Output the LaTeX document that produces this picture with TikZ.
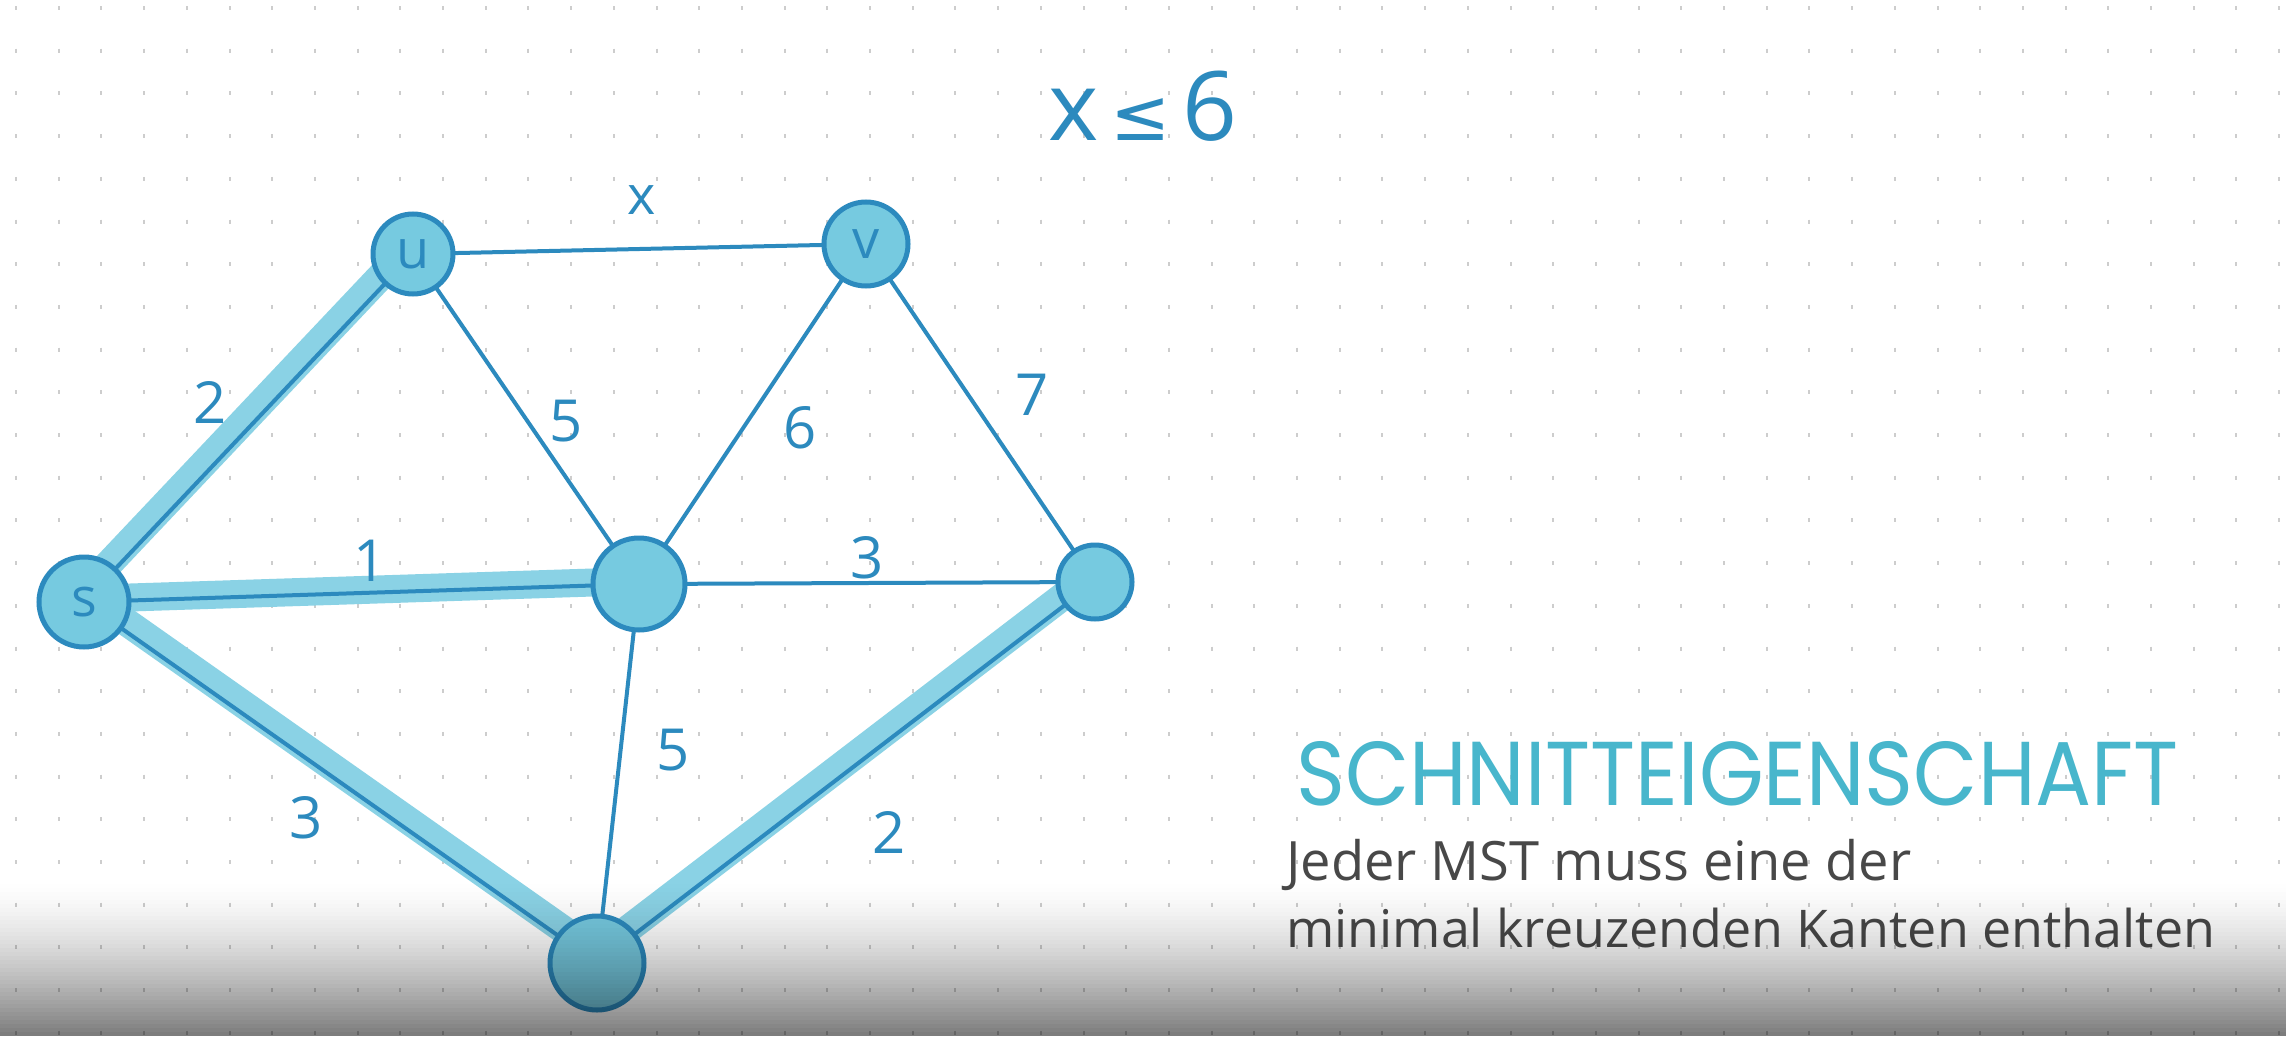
\documentclass[tikz,border=0pt]{standalone}
\usepackage{fontspec}
\setmainfont{Open Sans}
\newfontfamily\symfont{DejaVu Sans}
\newfontfamily\headfont{Poppins}
\definecolor{ink}{RGB}{44,138,190}
\definecolor{band}{RGB}{138,210,229}
\definecolor{nfill}{RGB}{118,202,224}
\definecolor{headc}{RGB}{72,182,204}
\definecolor{greyt}{RGB}{72,72,72}
\definecolor{dotc}{RGB}{205,205,205}
\tikzset{
  vtx/.style={circle, draw=ink, line width=5pt, fill=nfill, inner sep=0pt, text=ink,
    font=\fontsize{54}{56}\selectfont},
  thinedge/.style={draw=ink, line width=4pt, line cap=round},
  bandedge/.style={draw=band, line width=28pt, line cap=round},
  wlabel/.style={text=ink, font=\fontsize{58}{60}\selectfont, inner sep=0pt}
}
\begin{document}
\begin{tikzpicture}[x=1pt,y=-1pt]
\useasboundingbox (0,0) rectangle (2286,1036);
\fill[white] (0,0) rectangle (2286,1036);
% dot grid
\foreach \i in {0,...,53} {
  \foreach \j in {0,...,24} {
    \draw[dotc, line width=2pt] ({16+42.7*\i},{6+42.7*\j}) -- ++(0,4);
  }
}
% node positions
\coordinate (u) at (413,254);
\coordinate (v) at (866,244);
\coordinate (s) at (84,602);
\coordinate (c) at (639,584);
\coordinate (r) at (1095,582);
\coordinate (b) at (597,963);
% highlighted bands
\draw[bandedge] ([shift={(-6,-5.5)}]s) -- ([shift={(-6,-5.5)}]u);
\draw[bandedge] ([shift={(0,-3)}]s) -- ([shift={(0,-3)}]c);
\draw[bandedge] ([shift={(4.6,-6.5)}]s) -- ([shift={(4.6,-6.5)}]b);
\draw[bandedge] ([shift={(-4.9,-6.4)}]b) -- ([shift={(-4.9,-6.4)}]r);
% thin edges
\draw[thinedge] (s) -- (u);
\draw[thinedge] (s) -- (c);
\draw[thinedge] (s) -- (b);
\draw[thinedge] (b) -- (r);
\draw[thinedge] (u) -- (v);
\draw[thinedge] (u) -- (c);
\draw[thinedge] (v) -- (c);
\draw[thinedge] (v) -- (r);
\draw[thinedge] (c) -- (r);
\draw[thinedge] (c) -- (b);
% vertices
\node[vtx, minimum size=80pt] (nu) at (u) {u};
\node[vtx, minimum size=84pt] (nv) at (v) {v};
\node[vtx, minimum size=90pt] (ns) at (s) {s};
\node[vtx, minimum size=92pt] (nc) at (c) {};
\node[vtx, minimum size=74pt] (nr) at (r) {};
\node[vtx, minimum size=94pt] (nb) at (b) {};
% weights
\node[wlabel] (l1) at (210,402) {2};
\node[wlabel] (l2) at (370,561) {1};
\node[wlabel] (l3) at (306,818) {3};
\node[wlabel] (l4) at (889,832) {2};
\node[wlabel] (l5) at (642,200) {\fontsize{54}{56}\selectfont x};
\node[wlabel] (l6) at (566,421) {5};
\node[wlabel] (l7) at (800,428) {6};
\node[wlabel] (l8) at (1032,395) {7};
\node[wlabel] (l9) at (867,558) {3};
\node[wlabel] (l10) at (673,750) {5};
% constraint
\node[anchor=base west, text=ink, inner sep=0pt, font=\fontsize{96}{100}\selectfont] (cons) at (1048,140) {x{\symfont\fontsize{72}{80}\selectfont\,≤\,}6};
% heading and text
\node[anchor=base west, inner sep=0pt, text=headc] (head) at (1296,805)
  {\resizebox{882pt}{64pt}{\headfont\fontseries{l}\selectfont SCHNITTEIGENSCHAFT}};
\node[anchor=base west, inner sep=0pt, text=greyt] (t1) at (1286,880)
  {\resizebox{625pt}{!}{\fontsize{50}{60}\selectfont Jeder MST muss eine der}};
\node[anchor=base west, inner sep=0pt, text=greyt] (t2) at (1286,947)
  {\resizebox{929pt}{!}{\fontsize{50}{60}\selectfont minimal kreuzenden Kanten enthalten}};
% bottom darkening (strips of growing opacity)
\foreach \k in {0,...,38} {
  \pgfmathsetmacro{\op}{0.52*((\k+0.5)/39)^1.5}
  \fill[black, opacity=\op] (0,{880+4*\k}) rectangle (2286,{884.3+4*\k});
}
\end{tikzpicture}
\end{document}
